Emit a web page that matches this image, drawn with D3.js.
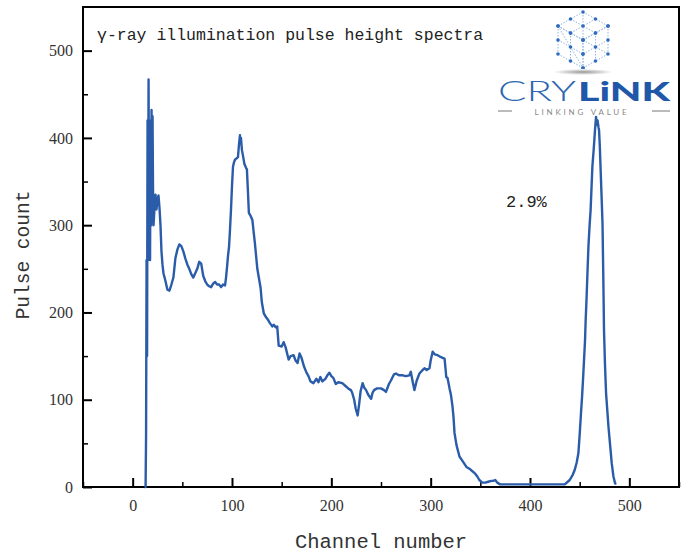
<!DOCTYPE html>
<html>
<head>
<meta charset="utf-8">
<script src="https://cdn.jsdelivr.net/npm/d3@7"></script>
<style>
  body { margin: 0; background: #fff; }
  svg { display: block; }
</style>
</head>
<body>
<div class="chart"></div>
<script>

const width = 683;
const height = 553;

// spectrum: channel, pulse count
const channels = [
    12, 13, 13.5, 14, 14.5, 15, 15.5, 16, 16.5, 17, 17.5, 18, 18.5, 19, 19.5, 20, 20.5, 21, 22, 23,
    24, 25, 26, 27, 28, 29, 30, 31, 33, 35, 37, 39, 41, 43, 45, 47, 49, 51, 53, 55,
    57, 59, 61, 63, 65, 67, 69, 71, 73, 75, 77, 79, 81, 83, 85, 87, 89, 91, 93, 94,
    95, 96, 97, 98, 99, 100, 101, 102, 103, 104, 106, 107, 108, 108.5, 109, 110, 111, 112.5, 114, 115,
    116, 117, 119, 120.5, 122, 123, 124.5, 125.5, 127, 128.8, 130, 132, 134, 136, 138, 140.5, 142, 144, 145.5, 147,
    150, 152, 154, 157, 159, 162, 164, 166, 168, 170, 172.5, 175, 177, 179, 182, 185, 187, 189, 191, 194,
    196, 198, 200, 202, 204.5, 207, 211, 214, 217, 219.7, 221, 223, 224.5, 226.5, 228, 229.5, 231.5, 233, 235, 237,
    240, 241.5, 243, 246, 250, 253, 255, 258, 260, 263, 265, 268, 272, 275, 278.6, 280, 282, 283.6, 286, 288.7,
    291, 293.7, 296, 298.8, 300, 302, 304, 307, 310, 312, 314, 315, 315.7, 317, 319, 320.5, 322, 323, 324, 326,
    329, 332, 336, 339, 342.6, 345, 347, 349, 352, 355, 358, 361, 363, 365, 367, 370, 380, 390, 400, 410,
    420, 430, 435, 440, 443, 445, 447, 448.7, 450, 451.3, 452.5, 453.7, 455.4, 456, 457, 458, 458.8, 460, 461, 462,
    462.8, 464, 464.8, 465.5, 466.5, 467.2, 468, 469, 469.5, 470.3, 471, 472, 473, 473.8, 474.5, 475.5, 476.6, 478, 479, 480.5,
    482.3, 484, 485.7, 487
];
const counts = [
    0, 0, 60, 260, 150, 420, 260, 467, 300, 380, 260, 420, 300, 432, 330, 425, 340, 300, 320, 335,
    318, 330, 334, 320, 300, 270, 255, 245, 236, 226, 225, 232, 240, 262, 272, 278, 276, 270, 262, 255,
    250, 244, 240, 245, 250, 258, 256, 242, 236, 232, 230, 229, 233, 235, 232, 232, 229, 232, 231, 240,
    252, 265, 275, 295, 318, 345, 367, 372, 375, 376, 378, 392, 403, 395, 400, 386, 380, 370, 366, 364,
    340, 314, 310, 306, 290, 280, 262, 250, 240, 228, 212, 199, 195, 192, 188, 184, 186, 183, 184, 162,
    161, 166, 160, 146, 150, 151, 145, 142, 153, 148, 138, 131, 127, 121, 119, 124, 120, 126, 121, 124,
    128, 131, 127, 125, 118, 120, 119, 116, 113, 111, 108, 100, 90, 82, 95, 110, 119, 114, 111, 106,
    101, 108, 111, 113, 113, 111, 109, 118, 122, 129, 130, 128, 128, 127, 128, 132, 120, 111, 122, 130,
    133, 136, 134, 136, 145, 155, 152, 151, 149, 148, 147, 135, 126, 125, 113, 105, 92, 80, 62, 48,
    35, 30, 23, 21, 17.5, 15, 12, 8, 5, 5, 6, 7, 7, 8, 5, 3, 3, 3, 3, 3,
    3, 3, 3, 8, 14, 19.5, 28, 38.6, 60, 84, 105, 130, 168, 190, 218, 250, 275, 300, 317, 345,
    367, 385, 398, 410, 424, 415, 420, 412, 409, 390, 367, 335, 302, 240, 180, 140, 107, 85, 69, 50,
    27, 12, 4, 4
];

const xTicks = [0, 100, 200, 300, 400, 500];
const yTicks = [0, 100, 200, 300, 400, 500];
const xMinor = [-50, 50, 150, 250, 350, 450, 550];
const yMinor = [50, 150, 250, 350, 450];

const plot = { left: 83, right: 679, top: 7, bottom: 487 };


buildChart();


function buildChart() {

    const svg = d3.select('.chart')
        .append('svg')
        .attr('width', width)
        .attr('height', height);

    let x = d3.scaleLinear()
        .domain([-50, 550])
        .range([plot.left, plot.right]);

    let y = d3.scaleLinear()
        .domain([0, 550])
        .range([plot.bottom, plot.top]);

    // minor ticks
    svg.append('g')
        .attr('transform', `translate(0, ${plot.bottom})`)
        .call(d3.axisBottom(x).tickValues(xMinor).tickSize(-5).tickFormat(''))
        .call(g => g.select('.domain').remove())
        .selectAll('line').attr('stroke', '#000').attr('stroke-width', 1.5);

    svg.append('g')
        .attr('transform', `translate(${plot.left}, 0)`)
        .call(d3.axisLeft(y).tickValues(yMinor).tickSize(-5).tickFormat(''))
        .call(g => g.select('.domain').remove())
        .selectAll('line').attr('stroke', '#000').attr('stroke-width', 1.5);

    // major ticks with labels
    let xAxis = svg.append('g')
        .attr('transform', `translate(0, ${plot.bottom})`)
        .call(d3.axisBottom(x).tickValues(xTicks).tickSize(-9).tickPadding(13));

    let yAxis = svg.append('g')
        .attr('transform', `translate(${plot.left}, 0)`)
        .call(d3.axisLeft(y).tickValues(yTicks).tickSize(-9).tickPadding(10));

    [xAxis, yAxis].forEach(a => {
        a.select('.domain').remove();
        a.selectAll('line').attr('stroke', '#000').attr('stroke-width', 2);
        a.selectAll('text')
            .attr('font-family', '"Liberation Serif", serif')
            .attr('font-size', 16)
            .attr('fill', '#333');
    });

    // frame
    svg.append('rect')
        .attr('x', plot.left)
        .attr('y', plot.top)
        .attr('width', plot.right - plot.left)
        .attr('height', plot.bottom - plot.top)
        .attr('fill', 'none')
        .attr('stroke', '#000')
        .attr('stroke-width', 2);

    // spectrum
    let line = d3.line()
        .x((d, i) => x(channels[i]))
        .y((d) => y(d));

    svg.append('path')
        .datum(counts)
        .attr('d', line)
        .attr('fill', 'none')
        .attr('stroke', '#2a5caa')
        .attr('stroke-width', 2.4)
        .attr('stroke-linejoin', 'round');

    // texts
    svg.append('text')
        .attr('x', 97)
        .attr('y', 40)
        .attr('font-family', '"Liberation Mono", monospace')
        .attr('font-size', 16.5)
        .attr('fill', '#222')
        .text('γ-ray illumination pulse height spectra');

    svg.append('text')
        .attr('x', 506)
        .attr('y', 207)
        .attr('font-family', '"Liberation Mono", monospace')
        .attr('font-size', 17)
        .attr('fill', '#222')
        .text('2.9%');

    svg.append('text')
        .attr('x', (plot.left + plot.right) / 2)
        .attr('y', 548)
        .attr('text-anchor', 'middle')
        .attr('font-family', '"Liberation Mono", monospace')
        .attr('font-size', 20.5)
        .attr('fill', '#333')
        .text('Channel number');

    svg.append('text')
        .attr('transform', 'translate(29, 255) rotate(-90)')
        .attr('text-anchor', 'middle')
        .attr('font-family', '"Liberation Mono", monospace')
        .attr('font-size', 19.5)
        .attr('fill', '#333')
        .text('Pulse count');

    drawLogo(svg);
}


function drawLogo(svg) {

    let logo = svg.append('g');

    // isometric lattice icon, three rhombic faces split in halves
    const cx = 583;
    const top = [cx, 12], bottom = [cx, 68];
    const ul = [558, 26], ur = [608, 26], ll = [558, 54], lr = [608, 54];
    const center = [cx, 40];
    const lerp = (p, q, t) => [p[0] + (q[0] - p[0]) * t, p[1] + (q[1] - p[1]) * t];

    let segs = [];
    let faces = [[top, ur, center, ul], [ul, center, bottom, ll], [center, ur, lr, bottom]];
    faces.forEach(f => {
        [0, 0.5, 1].forEach(t => {
            segs.push([lerp(f[0], f[3], t), lerp(f[1], f[2], t)]);
            segs.push([lerp(f[0], f[1], t), lerp(f[3], f[2], t)]);
        });
        segs.push([f[0], f[2]]);
    });

    logo.selectAll('.lat')
        .data(segs)
        .enter()
        .append('line')
        .attr('x1', d => d[0][0]).attr('y1', d => d[0][1])
        .attr('x2', d => d[1][0]).attr('y2', d => d[1][1])
        .attr('stroke', '#8fb6e3')
        .attr('stroke-width', 1)
        .attr('stroke-dasharray', '1.5,1.5');

    let nodes = [];
    faces.forEach(f => {
        [0, 0.5, 1].forEach(t => {
            [0, 0.5, 1].forEach(u => {
                nodes.push(lerp(lerp(f[0], f[3], t), lerp(f[1], f[2], t), u));
            });
        });
    });

    logo.selectAll('.node')
        .data(nodes)
        .enter()
        .append('circle')
        .attr('cx', d => d[0])
        .attr('cy', d => d[1])
        .attr('r', 1.8)
        .attr('fill', '#2f6cc0');

    let grad = svg.append('defs')
        .append('radialGradient')
        .attr('id', 'shadow');
    grad.append('stop').attr('offset', '0%').attr('stop-color', '#999');
    grad.append('stop').attr('offset', '100%').attr('stop-color', '#fff');

    logo.append('ellipse')
        .attr('cx', cx).attr('cy', 72)
        .attr('rx', 30).attr('ry', 3)
        .attr('fill', 'url(#shadow)');

    logo.append('text')
        .attr('x', 498).attr('y', 101)
        .attr('font-family', 'Lato, sans-serif')
        .attr('font-weight', 300)
        .attr('font-size', 27)
        .attr('fill', '#2d67b2')
        .attr('textLength', 78)
        .attr('lengthAdjust', 'spacingAndGlyphs')
        .text('CRY');

    logo.append('text')
        .attr('x', 578).attr('y', 101)
        .attr('font-family', 'Lato, sans-serif')
        .attr('font-weight', 900)
        .attr('font-size', 27)
        .attr('fill', '#1f58a8')
        .attr('textLength', 92)
        .attr('lengthAdjust', 'spacingAndGlyphs')
        .text('LiNK');

    logo.append('line')
        .attr('x1', 498).attr('x2', 512).attr('y1', 111).attr('y2', 111)
        .attr('stroke', '#777').attr('stroke-width', 1);
    logo.append('line')
        .attr('x1', 652).attr('x2', 670).attr('y1', 111).attr('y2', 111)
        .attr('stroke', '#777').attr('stroke-width', 1);

    logo.append('text')
        .attr('x', 582).attr('y', 115)
        .attr('text-anchor', 'middle')
        .attr('font-family', 'Lato, sans-serif')
        .attr('font-size', 8)
        .attr('fill', '#888')
        .attr('letter-spacing', 2.8)
        .text('LINKING  VALUE');
}

</script>
</body>
</html>
